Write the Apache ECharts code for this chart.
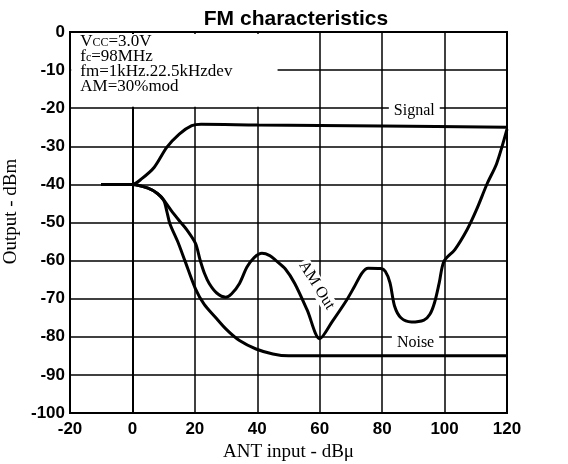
<!DOCTYPE html>
<html>
<head>
<meta charset="utf-8">
<script src="https://cdn.jsdelivr.net/npm/echarts@6/dist/echarts.min.js"></script>
<style>html,body{margin:0;padding:0;background:#fff}#c{width:568px;height:464px}</style>
</head>
<body>
<div id="c"></div>
<script>
// ---- data ----
const xTicks = [-20, 0, 20, 40, 60, 80, 100, 120];
const yTicks = [0, -10, -20, -30, -40, -50, -60, -70, -80, -90, -100];

const signalX = [-10, 0, 3, 7, 11, 15, 19, 22, 40, 80, 120];
const signalY = [-40, -40, -38.5, -35.5, -30.3, -26.8, -24.6, -24.2, -24.4, -24.7, -25];

const noiseX = [-10, 0, 5, 8, 10, 11, 12, 14.5, 16.8, 20.2, 23, 26.5, 30, 34.3, 39.6, 45, 50, 60, 120];
const noiseY = [-40, -40, -41, -42.4, -44.1, -47, -50.3, -55, -60, -67.4, -71.5, -74.8, -78, -81, -83.2, -84.5, -85, -85, -85];

const amX = [-10, 0, 5, 8, 10, 12.4, 14.9, 17.5, 20.2, 21.7, 23.1, 24.6, 27, 29.9, 31.8, 34.3, 36.7, 39, 41.5, 44, 46, 49, 52, 56, 60, 64, 68.6, 71, 73.6, 75.5, 79.5, 81, 82.5, 84, 86, 89.4, 93.4, 95.3, 96.8, 98.3, 99.8, 103.3, 107.2, 110.2, 113.7, 116.7, 120];
const amY = [-40, -40, -41, -42.4, -44.1, -46.8, -49.4, -52, -55.5, -59.9, -63.4, -66, -68.5, -69.6, -68.7, -66, -61.7, -59.2, -58.1, -58.7, -60, -62.2, -66, -73, -80.5, -76, -70.4, -67, -63.2, -62, -62.1, -62.8, -65.8, -72, -75, -76.1, -75.6, -74.1, -71, -65.8, -60.2, -57.1, -51.9, -46.7, -39.7, -34.5, -25.5];

const labels = { signal: 'Signal', noise: 'Noise', am: 'AM Out' };
const annotation = ['V{s|CC}=3.0V', 'f{s|c}=98MHz', 'fm=1kHz.22.5kHzdev', 'AM=30%mod'];

// ---- chart ----
const pairs = (xs, ys) => xs.map((x, i) => [x, ys[i]]);
const serif = '"Liberation Serif","Times New Roman",serif';
const sans = '"Liberation Sans",Arial,sans-serif';
const lineStyle = { color: '#000', width: 3 };

const chart = echarts.init(document.getElementById('c'), null, { renderer: 'canvas' });
chart.setOption({
  animation: false,
  backgroundColor: '#fff',
  title: {
    text: 'FM characteristics',
    left: 291, top: 4, textAlign: 'center',
    textStyle: { fontFamily: sans, fontSize: 21, fontWeight: 'bold', color: '#000' }
  },
  grid: { left: 70, right: 61, top: 32, bottom: 51, containLabel: false, outerBoundsMode: 'none',
    show: true, borderColor: '#000', borderWidth: 2, backgroundColor: '#fff' },
  xAxis: {
    type: 'value', min: xTicks[0], max: xTicks[xTicks.length - 1], interval: 20,
    name: 'ANT input - dBμ', nameLocation: 'middle', nameGap: 27,
    nameTextStyle: { fontFamily: serif, fontSize: 19, color: '#000' },
    axisLine: { show: true, lineStyle: { color: '#000', width: 2 } },
    axisTick: { show: false },
    axisLabel: { fontFamily: sans, fontSize: 17, fontWeight: 'bold', color: '#000', margin: 8 },
    splitLine: { show: true, lineStyle: { color: '#000', width: 1.5 } }
  },
  yAxis: {
    type: 'value', min: yTicks[yTicks.length - 1], max: yTicks[0], interval: 10,
    name: 'Output - dBm', nameLocation: 'middle', nameGap: 42,
    nameTextStyle: { fontFamily: serif, fontSize: 19, color: '#000', padding: [0, 0, 0, 22] },
    axisLine: { show: true, lineStyle: { color: '#000', width: 2 } },
    axisTick: { show: false },
    axisLabel: { fontFamily: sans, fontSize: 17, fontWeight: 'bold', color: '#000', margin: 5 },
    splitLine: { show: true, lineStyle: { color: '#000', width: 1.5 } }
  },
  series: [
    {
      name: labels.noise, type: 'line', data: pairs(noiseX, noiseY), showSymbol: false, symbol: 'none',
      smooth: 0.3, lineStyle, silent: true, z: 3,
      markArea: {
        silent: true,
        itemStyle: { color: '#fff', opacity: 1 },
        label: {
          show: true, position: 'insideTopLeft', distance: 0, padding: [0, 0, 0, 9],
          formatter: annotation.join('\n'),
          fontFamily: serif, fontSize: 17, lineHeight: 15, color: '#000',
          rich: { s: { fontFamily: serif, fontSize: 12, lineHeight: 12, verticalAlign: 'bottom', color: '#000' } }
        },
        data: [[{ coord: [-19.6, -0.5] }, { coord: [46.5, -19.6] }]]
      },
      markPoint: {
        silent: true, symbol: 'rect', symbolSize: 1, itemStyle: { color: 'rgba(0,0,0,0)' },
        label: { show: true, position: 'inside', formatter: labels.noise, backgroundColor: '#fff', padding: [0, 5],
          fontFamily: serif, fontSize: 16, color: '#000' },
        data: [{ coord: [90.7, -81.6] }]
      }
    },
    {
      name: labels.signal, type: 'line', data: pairs(signalX, signalY), showSymbol: false, symbol: 'none',
      smooth: 0.3, lineStyle, silent: true, z: 3,
      markPoint: {
        silent: true, symbol: 'rect', symbolSize: 1, itemStyle: { color: 'rgba(0,0,0,0)' },
        label: { show: true, position: 'inside', formatter: labels.signal, backgroundColor: '#fff', padding: [0, 5],
          fontFamily: serif, fontSize: 16, color: '#000' },
        data: [{ coord: [90.3, -20.8] }]
      }
    },
    {
      name: labels.am, type: 'line', data: pairs(amX, amY), showSymbol: false, symbol: 'none',
      smooth: 0.3, lineStyle, silent: true, z: 3,
      markPoint: {
        silent: true, symbol: 'rect', symbolSize: 1, itemStyle: { color: 'rgba(0,0,0,0)' },
        label: { show: true, position: 'inside', formatter: labels.am, rotate: -58, backgroundColor: '#fff', padding: [0, 1],
          fontFamily: serif, fontSize: 16, color: '#000' },
        data: [{ coord: [59, -66.5] }]
      }
    }
  ]
});
</script>
</body>
</html>
